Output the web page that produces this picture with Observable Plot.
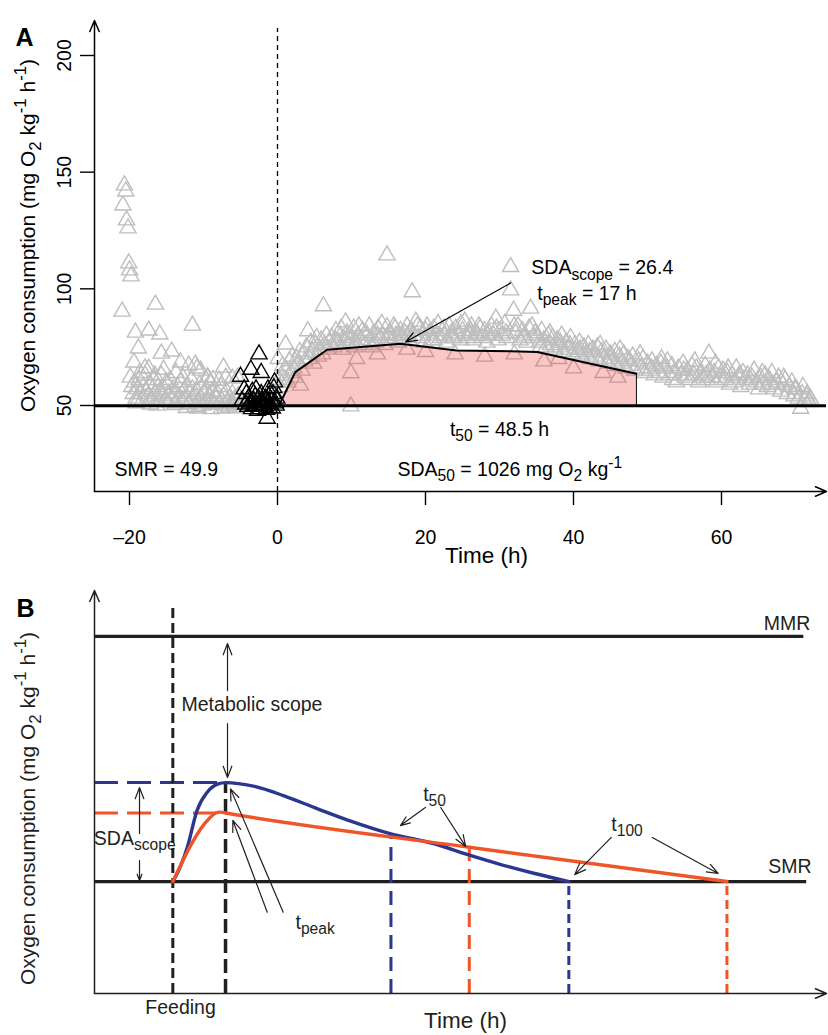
<!DOCTYPE html>
<html><head><meta charset="utf-8">
<script src="https://cdn.jsdelivr.net/npm/d3@7"></script>
<script src="https://cdn.jsdelivr.net/npm/@observablehq/plot@0.6"></script>
<style>
body{margin:0;background:#fff;}
#wrap{width:828px;height:1035px;position:relative;overflow:hidden;background:#fff;}
#wrap svg{display:block;}
</style></head><body><div id="wrap"></div>
<script>
// ================= Panel A data =================
const xTicksA = [-20, 0, 20, 40, 60];
const yTicksA = [50, 100, 150, 200];
const smrA = 49.9;
const t50A = 48.5;

// pre-feeding measurements (grey)  [time h, MO2]
const preFeeding = [
[-20.7,144.4],[-20.5,141.8],[-20.9,135.8],[-20.4,129.4],[-20.2,126.0],[-20.1,111.0],[-20.0,108.0],[-19.8,105.4],
[-21.0,90.3],[-16.5,93.3],[-11.5,84.3],[-19.2,81.3],[-17.4,82.2],[-15.9,80.5],[-18.8,74.5],[-15.7,72.3],[-14.3,73.2],
[-19.4,68.5],[-17.4,65.9],[-15.4,65.4],[-13.1,68.5],[-10.9,65.9],[-7.3,66.3],[-5.4,62.0],
[-19.9,62],[-19.7,58],[-19.5,55],[-19.3,60],[-19.1,53],[-18.9,57],[-18.7,61],[-18.5,55],[-18.3,52],[-18.1,58],
[-17.9,63],[-17.7,56],[-17.5,54],[-17.3,59],[-17.1,53],[-16.9,57],[-16.7,61],[-16.5,55],[-16.3,52],[-16.1,58],
[-15.9,56],[-15.7,63],[-15.5,54],[-15.3,57],[-15.1,52],[-14.9,59],[-14.7,55],[-14.5,61],[-14.3,53],[-14.1,57],
[-13.9,55],[-13.7,51],[-13.5,58],[-13.3,54],[-13.1,60],[-12.9,52],[-12.7,56],[-12.5,53],[-12.3,58],[-12.1,50.5],
[-11.9,55],[-11.7,52],[-11.5,57],[-11.3,54],[-11.1,49.5],[-10.9,56],[-10.7,52],[-10.5,59],[-10.3,53],[-10.1,50],
[-9.9,55],[-9.7,57],[-9.5,51],[-9.3,54],[-9.1,60],[-8.9,52],[-8.7,56],[-8.5,50.5],[-8.3,53],[-8.1,55],
[-7.9,51],[-7.7,58],[-7.5,52],[-7.3,54],[-7.1,50],[-6.9,56],[-6.7,52],[-6.5,53],[-6.3,51],[-6.1,55],
[-5.9,50.5],[-5.7,53],[-5.5,52],[-5.3,54],[-5.1,51],[-4.9,50],[-4.7,52.5],
[-18.6,64],[-17.9,66],[-16.6,63],[-15.0,60],[-13.7,64],[-12.8,62],[-11.6,61],[-9.4,62],[-8.7,61],[-7.0,62],
[-12.0,67.2],[-11.1,67.6],[-10.4,65],[-9.5,62.1],[-7.9,60.7],[-6.1,61.6],
[-12.3,49],[-10.7,48.8],[-9.0,48.5],[-7.6,48.8],[-19.1,51],[-17.2,50.5],[-14.8,51.5],[-16.3,50],[-13.9,50.3],
[-11.9,50.8],[-6.6,49.2],[-5.6,48.9]
];

// measurements used for SMR (black)
const smrPoints = [
[-2.5,72],[-5.0,62.4],[-3.6,65.4],[-2.2,64],[-0.4,60],[-1.4,44.4],[-4.5,57],[-4.2,55],[-3.9,53],[-3.7,51],
[-3.4,56],[-3.2,52],[-3.0,54],[-2.8,50],[-2.6,53],[-2.4,51],[-2.2,55],[-2.0,52],[-1.8,49.5],[-1.6,53],
[-1.4,51],[-1.2,54],[-1.0,50.5],[-0.8,52],[-0.6,55],[-0.3,51],[-0.1,53],[-4.0,49.5],[-3.5,48.5],[-3.1,49.8],
[-2.7,47.8],[-2.3,48.5],[-1.9,50.2],[-1.5,48.2],[-1.1,49],[-0.7,48.8],[-0.2,50],[-4.8,52],[-4.3,50.5],
[-2.9,57],[-1.3,57],[-0.5,57.5]
];

// post-feeding measurements (grey)
const postFeeding = [
[0.1,70],[0.2,61],[0.3,58],[0.5,63],[0.7,67],[0.9,61],[1.1,76.2],[1.2,65],[1.4,60],[1.6,69],[1.8,64],[2.0,71],
[2.2,66],[2.4,62],[2.6,70],[2.8,68],[3.0,73],[3.1,58.6],[3.3,65],
[3.5,72],[3.7,69],[3.9,75],[4.1,81.9],[4.3,70],[4.5,77],[4.7,73],[4.9,68],[5.1,76],[5.3,79],[5.5,71],[5.7,74],
[5.9,78],[6.1,72],[6.2,92.6],[6.4,76],[6.6,80],[6.8,74],[7.0,77],
[7.3,79],[7.6,75],[7.9,82],[8.2,77],[8.5,80],[8.8,74],[9.1,78],[9.2,85.7],[9.4,81],[9.7,76],[9.9,63.9],[9.9,49.7],
[10.0,79],[10.3,83],[10.6,77],[10.7,70],[10.9,80],[11.2,78],[11.5,82],[11.8,76],[12.1,80],[12.4,84],[12.7,78],
[13.0,81],[13.3,77],[13.6,83],[13.9,79],[14.2,80],[14.5,76],[14.8,114.4],[14.8,83.6],[15.1,81],[15.4,78],
[15.7,84],[16.0,80],[16.3,77],[16.6,82],[16.9,79],
[7.8,78],[8.6,83],[9.5,79],[10.4,75],[11.0,84],[11.9,81],[12.8,75],[13.5,80],[14.1,85],[15.0,79],[15.9,83],[16.5,80],
[17.2,81],[17.5,84],[17.8,78],[18.1,82],[18.2,98.6],[18.4,80],[18.7,86],[19.0,79],[19.3,83],[19.6,80],[19.9,77],
[20.2,84],[20.5,81],[20.8,78],[21.1,83],[21.4,80],[21.7,85],[22.0,79],[22.3,82],[22.6,80],[22.9,77],[23.2,84],
[23.5,81],[23.8,79],[24.1,83],[24.4,80],[24.7,78],[25.0,82],[25.3,86],[25.6,79],[25.9,81],[26.1,82],[26.2,84],
[26.5,78],[26.8,81],[27.1,80],[27.4,83],[27.7,79],[28.0,82],[28.3,77],[28.6,81],[28.9,84],[29.2,80],[29.5,87.3],
[29.8,78],[30.1,82],[30.4,80],[30.7,85],[31.0,79],[31.5,109.4],[31.5,99.4],[31.9,90.7],[32.2,81],[32.5,84],
[32.8,78],[33.1,82],[33.4,80],[33.7,77],[34.0,83],[34.2,91.6],[34.5,79],[34.8,81],
[17.6,80],[18.9,84],[20.0,82],[21.2,78],[22.5,83],[23.6,79],[24.8,85],[26.0,80],[27.2,84],[28.4,80],[29.6,83],
[30.9,81],[32.0,84],[33.3,79],[34.4,84],
[13.5,72],[17.5,74],[20,73],[24,72],[28,71],[32,72],[36,69],[38,70],[40,66],[44,64],[46,62],
[35.1,80],[35.4,77],[35.7,82],[36.0,78],[36.3,75],[36.6,80],[36.9,76],[37.2,79],[37.5,74],[37.8,78],[38.1,75],
[38.4,80],[38.7,73],[39.0,77],[39.3,74],[39.6,79],[39.9,72],[40.2,76],[40.5,73],[40.8,77],[41.1,71],[41.4,75],
[41.7,72],[42.0,76],[42.3,70],[42.6,74],[42.9,71],[43.2,75],[43.5,69],[43.8,73],[44.1,70],[44.4,74],[44.7,68],
[45.0,72],[45.3,69],[45.6,73],[45.9,67],[46.2,71],[46.5,68],[46.8,72],[47.1,66],[47.4,70],[47.7,67],[48.0,71],[48.3,65],
[35.5,75],[36.8,81],[38.2,77],[39.5,76],[40.9,74],[42.2,73],[43.6,76],[44.9,70],[46.3,74],[47.6,69],
[48.8,69],[49.1,66],[49.4,70],[49.7,64],[50.0,68],[50.3,65],[50.6,69],[50.9,63],[51.2,67],[51.5,64],[51.8,68],
[52.1,62],[52.4,66],[52.7,69],[53.0,63],[53.3,67],[53.6,64],[53.9,60],[54.2,66],[54.5,63],[54.8,68],[55.1,62],
[55.4,65],[55.7,61],[56.0,67],[56.3,63],[56.6,66],[56.9,60],[57.2,64],[57.5,62],[57.8,67],[58.1,61],[58.3,72.3],
[58.4,65],[58.7,62],[59.0,64],[59.3,60],[59.6,66],[59.9,62],
[49.0,72],[50.5,66],[51.9,70],[53.4,61],[54.9,65],[56.4,69],[57.9,63],[59.2,68],
[60.2,65],[60.5,61],[60.8,64],[61.1,59],[61.4,63],[61.7,60],[62.0,66],[62.3,62],[62.6,58],[62.9,64],[63.2,61],
[63.5,63],[63.8,59],[64.1,62],[64.4,65],[64.7,60],[65.0,57],[65.3,62],[65.6,59],[65.9,63],[66.2,58],[66.5,61],
[66.8,64],[67.1,57],[67.4,60],[67.7,62],[68.0,56],[68.3,59],[68.6,61],[68.9,55],[69.2,58],[69.5,60],[69.8,54],
[70.1,57],[70.4,53],[70.7,48.7],[70.9,55],[71.2,52],[71.5,54],[71.8,51.5],
[60.9,66],[62.4,63],[63.9,61],[65.5,64],[66.9,59],[68.4,62],[69.9,57],[71.0,58],[71.6,55],[72.0,53]
];

// fitted SDA curve (black line over the pink area)
const fitTime = [0.2, 2.4, 6.7, 16.6, 24.2, 31.5, 35.1, 48.5];
const fitO2   = [50, 64.3, 73.9, 76.5, 73.6, 73.2, 72.9, 63.6];

// ================= Panel B data (schematic) =================
const smrB = 50, mmrB = 159.5;
const blueTime = [0, 0.6, 2.0, 3.3, 4.7, 6.1, 7.2, 11.0, 15.1, 19.7, 24.3, 29.8, 35.6, 40.2, 44.8, 49.3, 54.1];
const blueO2   = [50, 53.6, 65.5, 81.7, 89.9, 93.5, 94.2, 92.6, 88.4, 82.6, 77.0, 71.3, 67.0, 62.1, 57.6, 53.7, 50];
const orangeTime = [0, 5.0, 5.8, 6.5, 7.2, 40.5, 75.7];
const orangeO2   = [50, 78.3, 80.5, 81.0, 80.6, 65.3, 50];
const tPeakB = 7.2, bluePeak = 94.2, orangePeak = 80.6;
const blueT50 = 29.8, blueT50O2 = 71.3, orangeT50 = 40.5, orangeT50O2 = 65.3;
const blueT100 = 54.1, orangeT100 = 75.7;

// ================= helpers =================
const FONT = "'Liberation Sans', Arial, Helvetica, sans-serif";
const BLUE = "#2b368f", ORANGE = "#f0552a", INK = "#231f20";
const style = {fontFamily: FONT, fontSize: "19.5px", background: "white", color: "black", overflow: "visible"};
const SVGNS = "http://www.w3.org/2000/svg";

// turns "O_{2}" / "kg^{-1}" into sub/superscript tspans; wraps other marked texts in a tspan
function richText(svg) {
  svg.querySelectorAll("text").forEach(t => {
    const s = t.textContent;
    const plainWrap = t.closest("g[aria-label='ytick-labels']") != null;
    if (!/[_^]\{/.test(s) && !plainWrap) return;
    const parts = [];
    const re = /([_^])\{([^}]*)\}/g;
    let last = 0, m;
    while ((m = re.exec(s))) {
      if (m.index > last) parts.push({k: "n", s: s.slice(last, m.index)});
      parts.push({k: m[1] === "_" ? "sub" : "sup", s: m[2]});
      last = re.lastIndex;
    }
    if (last < s.length) parts.push({k: "n", s: s.slice(last)});
    while (t.firstChild) t.removeChild(t.firstChild);
    const shift = {n: 0, sub: 0.27, sup: -0.42};
    let cur = 0;
    for (const p of parts) {
      const ts = document.createElementNS(SVGNS, "tspan");
      const sc = p.k === "n" ? 1 : 0.8;
      const d = shift[p.k] - cur;
      if (d) ts.setAttribute("dy", (d / sc).toFixed(3) + "em");
      if (sc !== 1) ts.setAttribute("font-size", (sc * 100) + "%");
      ts.textContent = p.s;
      t.appendChild(ts);
      cur = shift[p.k];
    }
  });
}
const lbl = (text, x, y, o = {}) =>
  Plot.text([{x, y, text}], {x: "x", y: "y", text: "text", fontSize: 19.5, ...o});
const YLAB = "Oxygen consumption (mg O_{2} kg^{-1} h^{-1})";

// ================= Panel A =================
const A_x = [-24.73, 74.19], A_y = [13.14, 215];
const pxA = 732 / (A_x[1] - A_x[0]);          // pixels per hour
const pyA = 471 / (A_y[1] - A_y[0]);          // pixels per MO2 unit
const fit = fitTime.map((t, i) => ({t, v: fitO2[i]}));
const plotA = Plot.plot({
  width: 828, height: 575,
  marginLeft: 94, marginRight: 2, marginTop: 20, marginBottom: 84,
  x: {domain: A_x, axis: null}, y: {domain: A_y, axis: null},
  style,
  marks: [
    Plot.dot(preFeeding.concat(postFeeding), {x: d => d[0], y: d => d[1], symbol: "triangle", r: 6,
      fill: "none", stroke: "#bebebe", strokeWidth: 1.4}),
    Plot.areaY(fit, {x: "t", y1: smrA, y2: "v", fill: "#ee2c2c", fillOpacity: 0.27}),
    Plot.dot(smrPoints, {x: d => d[0], y: d => d[1], symbol: "triangle", r: 6,
      fill: "none", stroke: "black", strokeWidth: 1.4}),
    Plot.ruleY([smrA], {x1: A_x[0], x2: A_x[1], stroke: "black", strokeWidth: 3.2}),
    Plot.line(fit, {x: "t", y: "v", stroke: "black", strokeWidth: 2}),
    Plot.ruleX([t50A], {y1: smrA, y2: fitO2[fitO2.length - 1], stroke: "black", strokeWidth: 1}),
    Plot.ruleX([0], {y1: A_y[0], y2: 211.6, stroke: "black", strokeWidth: 1.3, strokeDasharray: "5,4"}),
    // axes: tick marks, lines with arrow heads, labels
    Plot.ruleX(xTicksA, {x: d => d, y1: A_y[0] - 14 / pyA, y2: A_y[0], stroke: "black", strokeWidth: 1.4}),
    Plot.ruleY(yTicksA, {y: d => d, x1: A_x[0] - 14 / pxA, x2: A_x[0], stroke: "black", strokeWidth: 1.4}),
    Plot.arrow([0], {x1: A_x[0], y1: A_y[0], x2: A_x[1], y2: A_y[0], stroke: "black", strokeWidth: 1.5, headLength: 12, headAngle: 46}),
    Plot.arrow([0], {x1: A_x[0], y1: A_y[0], x2: A_x[0], y2: A_y[1], stroke: "black", strokeWidth: 1.5, headLength: 12, headAngle: 46}),
    Plot.text(xTicksA, {x: d => d, y: A_y[0], dy: 46, text: d => d < 0 ? "\u2013" + (-d) : String(d), fontSize: 19.5}),
    Plot.text(yTicksA, {frameAnchor: "left", y: d => d, dx: -30, rotate: -90, textAnchor: "middle",
      text: d => String(d), fontSize: 19.5, ariaLabel: "ytick-labels"}),
    Plot.text([YLAB], {frameAnchor: "left", textAnchor: "middle", dx: -66, dy: -20.5, rotate: -90, fontSize: 21}),
    Plot.text(["Time (h)"], {frameAnchor: "bottom", dx: 26, dy: 71, fontSize: 22.5}),
    Plot.text(["A"], {frameAnchor: "top-left", textAnchor: "middle", dx: -70, dy: 8, fontSize: 25, fontWeight: "bold"}),
    // annotations
    Plot.arrow([0], {x1: 31.5, y1: 102.5, x2: 17.3, y2: 77.2, stroke: "black", strokeWidth: 1.2, headLength: 15, headAngle: 42}),
    lbl("SDA_{scope} = 26.4", 34.3, 108.9, {textAnchor: "start"}),
    lbl("t_{peak} = 17 h", 35.1, 98.0, {textAnchor: "start"}),
    lbl("t_{50} = 48.5 h", 23.3, 39.7, {textAnchor: "start"}),
    lbl("SDA_{50} = 1026 mg O_{2} kg^{-1}", 16.2, 22.6, {textAnchor: "start"}),
    lbl("SMR = 49.9", -22.03, 22.6, {textAnchor: "start"})
  ]
});

// ================= Panel B =================
const B_x = [-10.7, 89.3], B_y = [0, 180];
const blue = blueTime.map((t, i) => ({t, v: blueO2[i]}));
const orange = orangeTime.map((t, i) => ({t, v: orangeO2[i]}));
const arr = {stroke: INK, strokeWidth: 1.2, headLength: 15, headAngle: 42};
const plotB = Plot.plot({
  width: 828, height: 460,
  marginLeft: 94, marginRight: 2, marginTop: 15, marginBottom: 42,
  x: {domain: B_x, axis: null}, y: {domain: B_y, axis: null},
  style,
  marks: [
    Plot.ruleY([bluePeak], {x1: B_x[0], x2: tPeakB, stroke: BLUE, strokeWidth: 3, strokeDasharray: "24,9"}),
    Plot.ruleY([orangePeak], {x1: B_x[0], x2: 6.0, stroke: ORANGE, strokeWidth: 3, strokeDasharray: "24,9"}),
    Plot.ruleY([mmrB], {x1: B_x[0], x2: 86.2, stroke: INK, strokeWidth: 3.2}),
    Plot.ruleY([smrB], {x1: B_x[0], x2: 86.6, stroke: INK, strokeWidth: 3.2}),
    Plot.ruleX([0], {y1: 0, y2: 173.3, stroke: INK, strokeWidth: 3, strokeDasharray: "10,5"}),
    Plot.ruleX([tPeakB], {y1: 0, y2: bluePeak, stroke: INK, strokeWidth: 3.5, strokeDasharray: "14,6"}),
    Plot.ruleX([blueT50], {y1: 0, y2: blueT50O2, stroke: BLUE, strokeWidth: 3, strokeDasharray: "14,8"}),
    Plot.ruleX([orangeT50], {y1: 0, y2: orangeT50O2, stroke: ORANGE, strokeWidth: 3, strokeDasharray: "14,8"}),
    Plot.ruleX([blueT100], {y1: 0, y2: smrB, stroke: BLUE, strokeWidth: 3, strokeDasharray: "9,5"}),
    Plot.ruleX([orangeT100], {y1: 0, y2: smrB, stroke: ORANGE, strokeWidth: 3, strokeDasharray: "9,5"}),
    Plot.line(blue, {x: "t", y: "v", stroke: BLUE, strokeWidth: 3.4, curve: "monotone-x"}),
    Plot.line(orange, {x: "t", y: "v", stroke: ORANGE, strokeWidth: 3.4, curve: "monotone-x"}),
    // axes
    Plot.arrow([0], {x1: B_x[0], y1: 0, x2: B_x[1], y2: 0, stroke: INK, strokeWidth: 1.5, headLength: 12, headAngle: 46}),
    Plot.arrow([0], {x1: B_x[0], y1: 0, x2: B_x[0], y2: B_y[1], stroke: INK, strokeWidth: 1.5, headLength: 12, headAngle: 46}),
    // annotation arrows
    Plot.arrow([0], {x1: 7.47, y1: 135.3, x2: 7.47, y2: 156.3, ...arr}),
    Plot.arrow([0], {x1: 7.47, y1: 120.6, x2: 7.47, y2: 96.5, ...arr}),
    Plot.arrow([0], {x1: -4.55, y1: 71.5, x2: -4.55, y2: 92.0, ...arr}),
    Plot.arrow([0], {x1: -4.55, y1: 59.4, x2: -4.55, y2: 50.5, ...arr}),
    Plot.arrow([0], {x1: 12.9, y1: 36.3, x2: 8.2, y2: 77.3, ...arr}),
    Plot.arrow([0], {x1: 15.08, y1: 36.3, x2: 7.88, y2: 91.4, ...arr}),
    Plot.arrow([0], {x1: 34.5, y1: 83.1, x2: 31.1, y2: 75.0, ...arr}),
    Plot.arrow([0], {x1: 36.6, y1: 83.1, x2: 40.0, y2: 65.7, ...arr}),
    Plot.arrow([0], {x1: 59.9, y1: 69.7, x2: 54.9, y2: 53.1, ...arr}),
    Plot.arrow([0], {x1: 65.5, y1: 69.7, x2: 74.5, y2: 53.6, ...arr}),
    // labels
    lbl("MMR", 87.1, 165.1, {textAnchor: "end", fill: INK}),
    lbl("SMR", 87.25, 56.4, {textAnchor: "end", fill: INK}),
    lbl("Metabolic scope", 1.19, 129.1, {textAnchor: "start", fill: INK}),
    lbl("SDA_{scope}", -10.79, 69.2, {textAnchor: "start", fill: INK}),
    lbl("t_{peak}", 16.76, 31.7, {textAnchor: "start", fill: INK}),
    lbl("t_{50}", 34.2, 88.9, {textAnchor: "start", fill: INK}),
    lbl("t_{100}", 59.9, 75.5, {textAnchor: "start", fill: INK}),
    lbl("Feeding", 1.05, -6.25, {textAnchor: "middle", fill: INK}),
    Plot.text([YLAB], {frameAnchor: "left", textAnchor: "middle", dx: -66, dy: 16.5, rotate: -90, fontSize: 21, fill: INK}),
    Plot.text(["Time (h)"], {frameAnchor: "bottom", dx: 5, dy: 34, fontSize: 22.5, fill: INK}),
    Plot.text(["B"], {frameAnchor: "top-left", textAnchor: "middle", dx: -69, dy: 9, fontSize: 25, fontWeight: "bold"})
  ]
});

richText(plotA);
richText(plotB);
const wrap = document.getElementById("wrap");
wrap.appendChild(plotA);
wrap.appendChild(plotB);
</script>
</body></html>
